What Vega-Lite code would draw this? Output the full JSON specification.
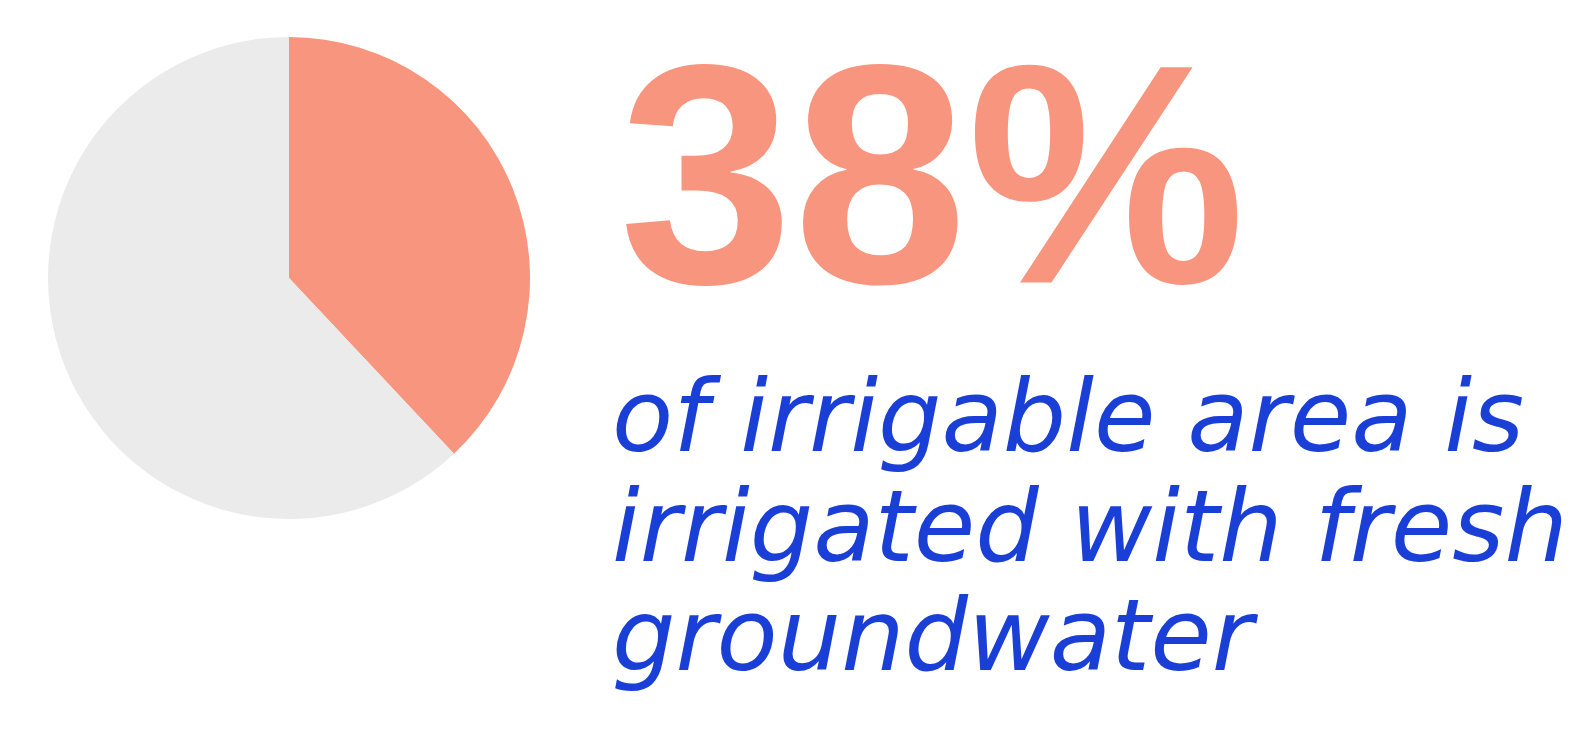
{
  "$schema": "https://vega.github.io/schema/vega-lite/v6.json",
  "background": "#ffffff",
  "padding": {"left": 48, "top": 32, "right": 0, "bottom": 0},
  "spacing": 82,
  "config": {"view": {"stroke": null}},
  "hconcat": [
    {
      "width": 482,
      "height": 482,
      "data": {"values": [
        {"category": "Fresh groundwater", "share": 38},
        {"category": "Other", "share": 62}
      ]},
      "mark": {"type": "arc"},
      "encoding": {
        "theta": {"field": "share", "type": "quantitative"},
        "color": {
          "field": "category",
          "type": "nominal",
          "scale": {"domain": ["Fresh groundwater", "Other"], "range": ["#f8957e", "#ebebeb"]},
          "legend": null
        }
      }
    },
    {
      "width": 960,
      "height": 670,
      "data": {"values": [
        {"line": 0, "text": "38%"},
        {"line": 1, "text": "of irrigable area is"},
        {"line": 2, "text": "irrigated with fresh"},
        {"line": 3, "text": "groundwater"}
      ]},
      "layer": [
        {
          "transform": [{"filter": "datum.line === 0"}],
          "mark": {"type": "text", "align": "left", "baseline": "alphabetic", "font": "Liberation Sans", "fontWeight": 700, "fontSize": 313, "color": "#f8957e", "dx": 7, "dy": -59},
          "encoding": {
            "x": {"datum": 0, "type": "quantitative", "scale": {"domain": [0, 1]}, "axis": null},
            "y": {"field": "line", "type": "quantitative", "scale": {"domain": [1, 3], "range": [414, 633], "zero": false, "nice": false}, "axis": null},
            "text": {"field": "text"}
          }
        },
        {
          "transform": [{"filter": "datum.line > 0"}],
          "mark": {"type": "text", "align": "left", "baseline": "alphabetic", "font": "DejaVu Sans", "fontStyle": "italic", "fontWeight": 400, "fontSize": 100, "color": "#1a3fd6"},
          "encoding": {
            "x": {"datum": 0, "type": "quantitative", "scale": {"domain": [0, 1]}, "axis": null},
            "y": {"field": "line", "type": "quantitative", "scale": {"domain": [1, 3], "range": [416, 640], "zero": false, "nice": false}, "axis": null},
            "text": {"field": "text"}
          }
        }
      ]
    }
  ]
}
